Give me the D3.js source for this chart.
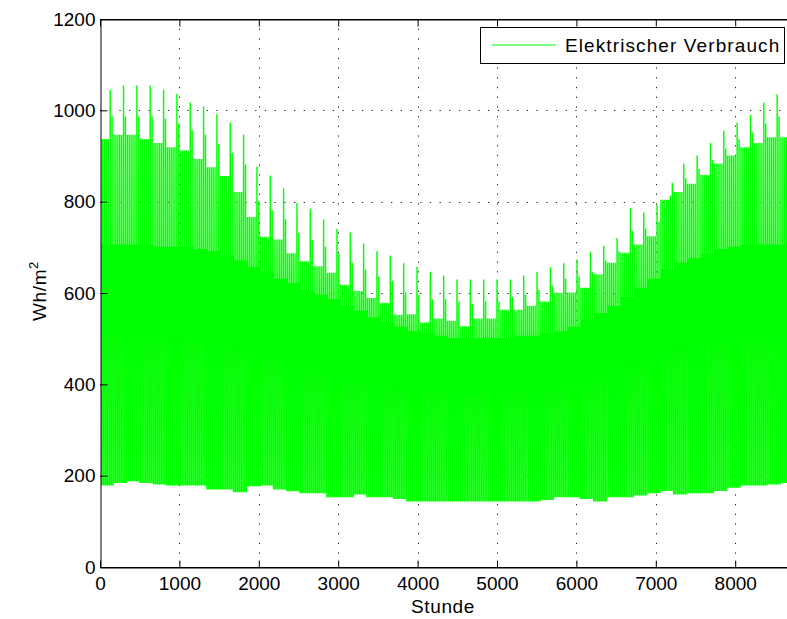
<!DOCTYPE html>
<html>
<head>
<meta charset="utf-8">
<script src="https://cdn.jsdelivr.net/npm/d3@7"></script>
<style>
  body { margin: 0; background: #fff; }
  svg text { font-family: "Liberation Sans", Arial, sans-serif; }
</style>
</head>
<body>
<svg width="787" height="619"></svg>
<script>
// weekly values (53 weeks, index 0 = first week of year)
var weekSpike = [1044,1053,1053,1053,1044,1035,1016,1007,990,972,945,875,856,828,796,783,760,739,731,707,690,681,664,656,645,637,628,628,628,628,628,637,645,655,664,672,689,702,719,785,775,792,812,882,900,927,954,972,989,1016,1034,1030,1030]
var weekAfter = [985,985,985,985,980,970,955,945,925,905,880,800,780,760,730,715,700,685,665,650,635,625,600,595,585,585,580,575,580,580,590,595,605,615,630,635,645,670,690,735,740,755,840,850,870,890,915,935,950,970,985,985,985]
var weekPlateau = [936,945,945,936,927,918,911,892,874,855,820,765,722,716,686,668,657,643,617,603,588,577,551,552,534,543,538,526,543,543,562,562,571,580,599,600,610,640,665,687,705,723,803,820,838,857,882,900,918,927,940,940,940]
var weekShoulder = [705,705,705,705,700,700,700,695,690,680,670,655,645,630,620,605,595,585,570,560,545,535,525,515,510,505,500,500,500,500,500,505,505,510,515,525,540,555,570,590,610,630,650,665,675,685,695,700,705,705,705,705,705]
var weekDayLow = [510,510,505,505,500,500,495,490,485,480,470,465,455,450,440,435,425,420,410,405,400,395,390,385,385,380,380,380,380,380,380,385,385,390,395,400,405,415,425,435,445,455,465,475,480,490,495,500,505,505,510,510,510]
var weekBase = [180,185,189,185,182,180,180,180,171,171,165,178,180,171,167,163,163,154,154,160,154,154,150,145,145,145,145,145,145,145,145,145,145,148,154,154,150,145,154,154,158,163,168,160,163,163,168,175,180,180,182,185,185]

// hour of day -> level (0 base, 1 day low, 2 shoulder, 3 peak)
var hourShape = [0,0,0,0,0,0,2,3,3,3,3,1,1,1,1,1,1,2,2,1,1,1,0,0]

var xTicks = [0,1000,2000,3000,4000,5000,6000,7000,8000]
var yTicks = [0,200,400,600,800,1000,1200]

var series = []
for (var day = 0; day < 365; day++) {
    var w = Math.floor(day / 7), dw = day % 7
    var peak = dw == 5 ? weekSpike[w] : (dw == 6 ? weekAfter[w] : weekPlateau[w])
    var levels = [weekBase[w], weekDayLow[w], weekShoulder[w], peak]
    hourShape.forEach(function(l){ series.push(levels[l]) })
}

var plotLeft = 100, plotTop = 19, plotBottom = 567
var pxPerHour = 0.0794
var svg = d3.select("svg")

var x = d3.scaleLinear().domain([0, 8760]).range([plotLeft, plotLeft + 8760 * pxPerHour])
var y = d3.scaleLinear().domain([0, 1200]).range([plotBottom, plotTop])

svg.append("clipPath").attr("id", "clip")
    .append("rect").attr("x", plotLeft + 1).attr("y", plotTop)
    .attr("width", x(8760) - plotLeft).attr("height", plotBottom - plotTop)

// grid
var grid = svg.append("g")
grid.selectAll(".gx").data(xTicks.slice(1)).enter().append("line")
    .attr("x1", d => Math.round(x(d)) + 0.5).attr("x2", d => Math.round(x(d)) + 0.5)
    .attr("y1", plotTop).attr("y2", plotBottom)
    .style("stroke", "#222").style("stroke-width", 1).style("stroke-dasharray", "1.3,8.4")
grid.selectAll(".gy").data(yTicks.slice(1, -1)).enter().append("line")
    .attr("x1", plotLeft).attr("x2", 787)
    .attr("y1", d => Math.round(y(d)) + 0.5).attr("y2", d => Math.round(y(d)) + 0.5)
    .style("stroke", "#222").style("stroke-width", 1).style("stroke-dasharray", "1.3,8.4")

// data line
var line = d3.line().x((d, i) => x(i)).y(d => y(d))
svg.append("path")
    .datum(series)
    .attr("clip-path", "url(#clip)")
    .attr("d", line)
    .style("fill", "none")
    .style("stroke", "#00ff00")
    .style("stroke-width", 1.2)

// axes (MATLAB style, ticks inside)
var fmt = d3.format("d")
svg.append("g").attr("transform", "translate(0," + (plotBottom + 0.5) + ")")
    .call(d3.axisBottom(x).tickValues(xTicks).tickFormat(fmt).tickSizeInner(-7).tickSizeOuter(0).tickPadding(9))
svg.append("g").attr("transform", "translate(0," + (plotTop + 0.5) + ")")
    .call(d3.axisTop(x).tickValues(xTicks).tickSizeInner(-7).tickSizeOuter(0).tickFormat(""))
svg.append("g").attr("transform", "translate(" + (plotLeft + 0.5) + ",0)")
    .call(d3.axisLeft(y).tickValues(yTicks).tickFormat(fmt).tickSizeInner(-7).tickSizeOuter(0).tickPadding(5))

svg.selectAll(".domain").style("stroke", "#000")
svg.selectAll(".tick line").style("stroke", "#000")
svg.selectAll(".tick text").style("font-size", "19px").style("fill", "#000")
    .style("font-family", "Liberation Sans, Arial, sans-serif")
// frame extends to the right edge
svg.append("line").attr("x1", plotLeft).attr("x2", 787).attr("y1", plotTop + 0.5).attr("y2", plotTop + 0.5).style("stroke", "#000")
svg.append("line").attr("x1", plotLeft).attr("x2", 787).attr("y1", plotBottom + 0.5).attr("y2", plotBottom + 0.5).style("stroke", "#000")

// labels
svg.append("text").attr("x", 443).attr("y", 613).attr("text-anchor", "middle")
    .style("font-size", "19px").style("letter-spacing", "0.6px").text("Stunde")
var yl = svg.append("text").attr("transform", "translate(46,291) rotate(-90)")
    .attr("text-anchor", "middle").style("font-size", "19px").style("letter-spacing", "0.6px")
yl.append("tspan").text("Wh/m")
yl.append("tspan").attr("dy", -8).style("font-size", "13px").text("2")

// legend
var lg = svg.append("g")
lg.append("rect").attr("x", 480.5).attr("y", 27.5).attr("width", 304).attr("height", 36)
    .style("fill", "#fff").style("stroke", "#000")
lg.append("line").attr("x1", 492).attr("x2", 556).attr("y1", 45).attr("y2", 45)
    .attr("stroke", "#00ff00").attr("stroke-width", 1.2)
lg.append("text").attr("x", 565).attr("y", 52).style("font-size", "19px")
    .style("letter-spacing", "1.1px").text("Elektrischer Verbrauch")
</script>
</body>
</html>
